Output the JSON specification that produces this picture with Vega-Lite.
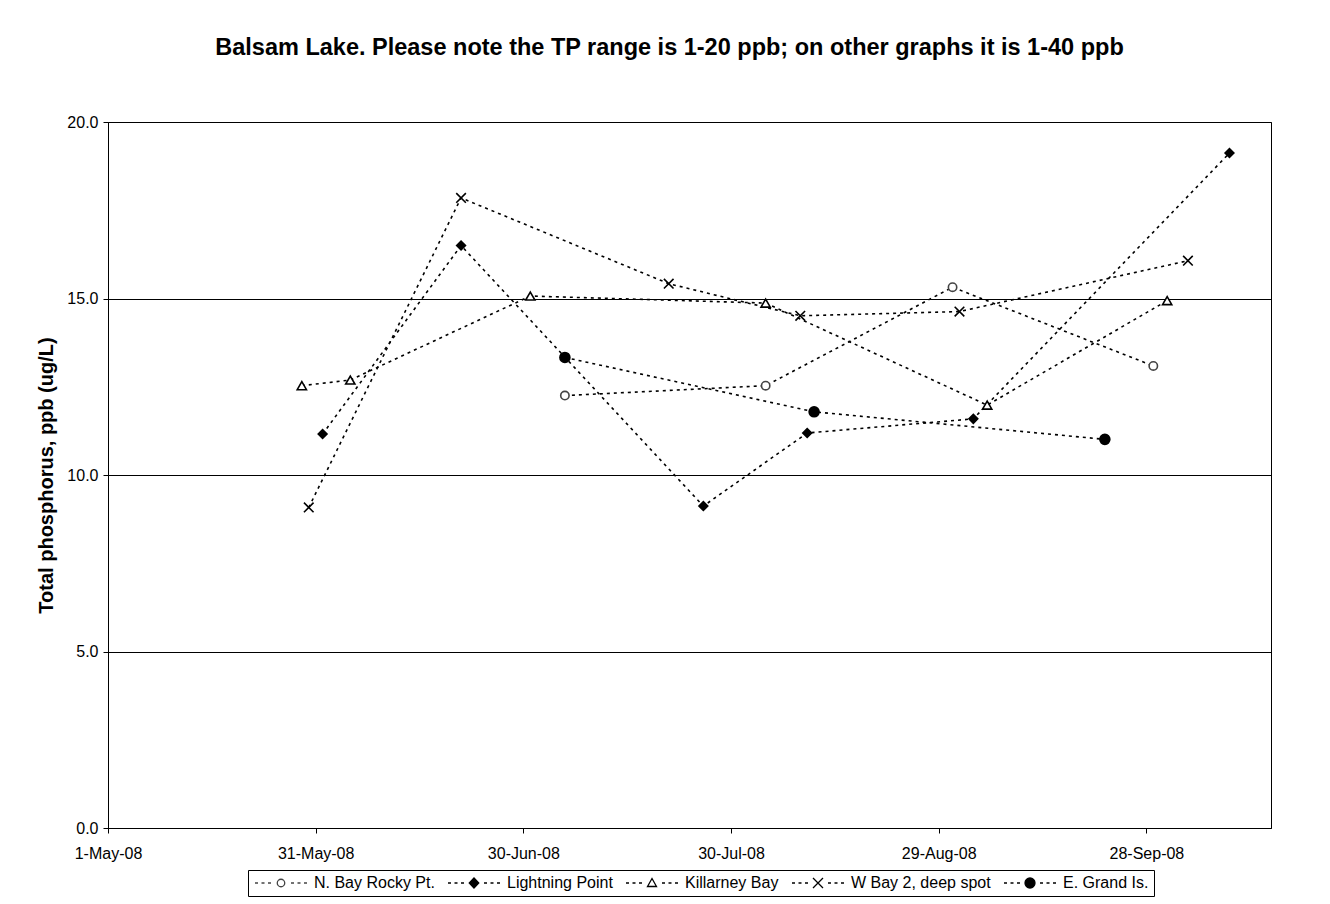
{
  "$schema": "https://vega.github.io/schema/vega-lite/v6.json",
  "width": 1163,
  "height": 706,
  "autosize": {"type": "none"},
  "padding": {"left": 108, "top": 122, "right": 59, "bottom": 76},
  "background": "white",
  "title": {
    "text": "Balsam Lake. Please note the TP range is 1-20 ppb; on other graphs it is 1-40 ppb",
    "font": "Liberation Sans",
    "fontSize": 23.5,
    "fontWeight": "bold",
    "color": "black",
    "anchor": "middle",
    "dx": -20,
    "offset": 55
  },
  "data": {
    "values": [
      {"site": "N. Bay Rocky Pt.", "date": "2008-07-06", "tp": 12.25},
      {"site": "N. Bay Rocky Pt.", "date": "2008-08-04", "tp": 12.53},
      {"site": "N. Bay Rocky Pt.", "date": "2008-08-31", "tp": 15.32},
      {"site": "N. Bay Rocky Pt.", "date": "2008-09-29", "tp": 13.09},
      {"site": "Lightning Point", "date": "2008-06-01", "tp": 11.16},
      {"site": "Lightning Point", "date": "2008-06-21", "tp": 16.5},
      {"site": "Lightning Point", "date": "2008-07-26", "tp": 9.12},
      {"site": "Lightning Point", "date": "2008-08-10", "tp": 11.19},
      {"site": "Lightning Point", "date": "2008-09-03", "tp": 11.59},
      {"site": "Lightning Point", "date": "2008-10-10", "tp": 19.12},
      {"site": "Killarney Bay", "date": "2008-05-29", "tp": 12.53},
      {"site": "Killarney Bay", "date": "2008-06-05", "tp": 12.69},
      {"site": "Killarney Bay", "date": "2008-07-01", "tp": 15.07},
      {"site": "Killarney Bay", "date": "2008-08-04", "tp": 14.87},
      {"site": "Killarney Bay", "date": "2008-09-05", "tp": 11.98},
      {"site": "Killarney Bay", "date": "2008-10-01", "tp": 14.94},
      {"site": "W Bay 2, deep spot", "date": "2008-05-30", "tp": 9.08},
      {"site": "W Bay 2, deep spot", "date": "2008-06-21", "tp": 17.85},
      {"site": "W Bay 2, deep spot", "date": "2008-07-21", "tp": 15.42},
      {"site": "W Bay 2, deep spot", "date": "2008-08-09", "tp": 14.51},
      {"site": "W Bay 2, deep spot", "date": "2008-09-01", "tp": 14.63},
      {"site": "W Bay 2, deep spot", "date": "2008-10-04", "tp": 16.07},
      {"site": "E. Grand Is.", "date": "2008-07-06", "tp": 13.33},
      {"site": "E. Grand Is.", "date": "2008-08-11", "tp": 11.79},
      {"site": "E. Grand Is.", "date": "2008-09-22", "tp": 11.01}
    ]
  },
  "encoding": {
    "x": {
      "field": "date",
      "type": "temporal",
      "scale": {
        "type": "utc",
        "domain": [
          {"year": 2008, "month": 5, "date": 1, "utc": true},
          {"year": 2008, "month": 10, "date": 16, "utc": true}
        ]
      },
      "axis": {
        "title": null,
        "values": [
          {"year": 2008, "month": 5, "date": 1, "utc": true},
          {"year": 2008, "month": 5, "date": 31, "utc": true},
          {"year": 2008, "month": 6, "date": 30, "utc": true},
          {"year": 2008, "month": 7, "date": 30, "utc": true},
          {"year": 2008, "month": 8, "date": 29, "utc": true},
          {"year": 2008, "month": 9, "date": 28, "utc": true}
        ],
        "format": "%-d-%b-%y",
        "grid": false,
        "labelFlush": false,
        "labelOverlap": false,
        "labelPadding": 12,
        "tickSize": 5
      }
    },
    "y": {
      "field": "tp",
      "type": "quantitative",
      "scale": {"domain": [0, 20], "nice": false, "zero": true},
      "axis": {
        "title": "Total phosphorus, ppb (ug/L)",
        "values": [0, 5, 10, 15, 20],
        "format": ".1f",
        "grid": true,
        "gridColor": "black",
        "gridOpacity": 1,
        "gridWidth": 1,
        "labelFlush": false,
        "labelPadding": 5,
        "tickSize": 5,
        "titleFontSize": 20,
        "titleFontWeight": "bold",
        "titlePadding": 10
      }
    }
  },
  "layer": [
    {
      "mark": {"type": "line", "color": "black", "strokeWidth": 1.6, "strokeDash": [3, 4]},
      "encoding": {"detail": {"field": "site", "type": "nominal"}}
    },
    {
      "mark": {"type": "point", "filled": true, "opacity": 1, "strokeWidth": 1.6},
      "encoding": {
        "shape": {
          "field": "site",
          "type": "nominal",
          "legend": null,
          "scale": {
            "domain": ["N. Bay Rocky Pt.", "Lightning Point", "Killarney Bay", "W Bay 2, deep spot", "E. Grand Is."],
            "range": ["circle", "diamond", "triangle-up", "M-1,-1L1,1M-1,1L1,-1", "circle"]
          }
        },
        "size": {
          "field": "site",
          "type": "nominal",
          "legend": null,
          "scale": {
            "domain": ["N. Bay Rocky Pt.", "Lightning Point", "Killarney Bay", "W Bay 2, deep spot", "E. Grand Is."],
            "range": [70, 100, 100, 196, 110]
          }
        },
        "fill": {
          "field": "site",
          "type": "nominal",
          "legend": null,
          "scale": {
            "domain": ["N. Bay Rocky Pt.", "Lightning Point", "Killarney Bay", "W Bay 2, deep spot", "E. Grand Is."],
            "range": ["white", "black", "white", "white", "black"]
          }
        },
        "stroke": {
          "field": "site",
          "type": "nominal",
          "legend": null,
          "scale": {
            "domain": ["N. Bay Rocky Pt.", "Lightning Point", "Killarney Bay", "W Bay 2, deep spot", "E. Grand Is."],
            "range": ["#444444", "black", "black", "black", "black"]
          }
        }
      }
    },
    {
      "transform": [{"filter": "datum.tp < 0"}],
      "mark": {"type": "point", "filled": true, "opacity": 1, "strokeWidth": 1.3},
      "encoding": {
        "shape": {
          "field": "site",
          "type": "nominal",
          "scale": {
            "domain": ["N. Bay Rocky Pt.", "Lightning Point", "Killarney Bay", "W Bay 2, deep spot", "E. Grand Is."],
            "range": [
              "M-5.2,0L-4.6,0M-3.9,0L-3.3,0M-2.6,0L-2,0M2,0L2.6,0M3.3,0L3.9,0M4.6,0L5.2,0M0.75,0A0.75,0.75 0 1,1 -0.75,0A0.75,0.75 0 1,1 0.75,0Z",
              "M-5.2,0L-4.6,0M-3.9,0L-3.3,0M-2.6,0L-2,0M2,0L2.6,0M3.3,0L3.9,0M4.6,0L5.2,0M0,-1L0.95,0L0,1L-0.95,0Z",
              "M-5.2,0L-4.6,0M-3.9,0L-3.3,0M-2.6,0L-2,0M2,0L2.6,0M3.3,0L3.9,0M4.6,0L5.2,0M0,-0.9L0.9,0.7L-0.9,0.7Z",
              "M-5.2,0L-4.6,0M-3.9,0L-3.3,0M-2.6,0L-2,0M2,0L2.6,0M3.3,0L3.9,0M4.6,0L5.2,0M-1,-1L1,1M-1,1L1,-1",
              "M-5.2,0L-4.6,0M-3.9,0L-3.3,0M-2.6,0L-2,0M2,0L2.6,0M3.3,0L3.9,0M4.6,0L5.2,0M1,0A1,1 0 1,1 -1,0A1,1 0 1,1 1,0Z"
            ]
          },
          "legend": {
            "title": null,
            "orient": "none",
            "legendX": 140,
            "legendY": 748,
            "direction": "horizontal",
            "columns": 5,
            "strokeColor": "black",
            "fillColor": "white",
            "padding": 5,
            "symbolSize": 100,
            "symbolOffset": 20,
            "symbolStrokeWidth": 1.3,
            "symbolOpacity": 1,
            "labelOffset": 25,
            "columnPadding": 10,
            "labelFontSize": 16,
            "labelLimit": 300
          }
        },
        "fill": {
          "field": "site",
          "type": "nominal",
          "scale": {
            "domain": ["N. Bay Rocky Pt.", "Lightning Point", "Killarney Bay", "W Bay 2, deep spot", "E. Grand Is."],
            "range": ["white", "black", "white", "white", "black"]
          },
          "legend": {
            "title": null,
            "orient": "none",
            "legendX": 140,
            "legendY": 748,
            "direction": "horizontal",
            "columns": 5,
            "strokeColor": "black",
            "fillColor": "white",
            "padding": 5,
            "symbolSize": 100,
            "symbolOffset": 20,
            "symbolStrokeWidth": 1.3,
            "symbolOpacity": 1,
            "labelOffset": 25,
            "columnPadding": 10,
            "labelFontSize": 16,
            "labelLimit": 300
          }
        },
        "stroke": {
          "field": "site",
          "type": "nominal",
          "scale": {
            "domain": ["N. Bay Rocky Pt.", "Lightning Point", "Killarney Bay", "W Bay 2, deep spot", "E. Grand Is."],
            "range": ["#444444", "black", "black", "black", "black"]
          },
          "legend": {
            "title": null,
            "orient": "none",
            "legendX": 140,
            "legendY": 748,
            "direction": "horizontal",
            "columns": 5,
            "strokeColor": "black",
            "fillColor": "white",
            "padding": 5,
            "symbolSize": 100,
            "symbolOffset": 20,
            "symbolStrokeWidth": 1.3,
            "symbolOpacity": 1,
            "labelOffset": 25,
            "columnPadding": 10,
            "labelFontSize": 16,
            "labelLimit": 300
          }
        }
      }
    }
  ],
  "resolve": {"scale": {"shape": "independent", "fill": "independent", "stroke": "independent"}},
  "config": {
    "font": "Liberation Sans",
    "view": {"stroke": "black", "strokeWidth": 1},
    "axis": {
      "labelFont": "Liberation Sans",
      "labelFontSize": 16,
      "labelColor": "black",
      "titleFont": "Liberation Sans",
      "titleColor": "black",
      "domainColor": "black",
      "tickColor": "black"
    },
    "legend": {
      "labelFont": "Liberation Sans",
      "labelColor": "black"
    }
  }
}
